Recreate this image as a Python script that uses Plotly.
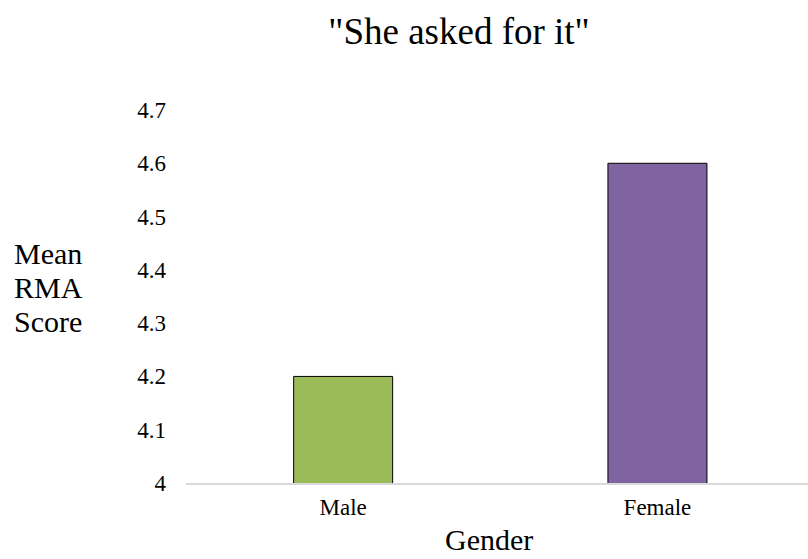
import plotly.graph_objects as go

# Mean RMA score by gender
genders = ["Male", "Female"]
mean_scores = [4.2, 4.6]
bar_colors = ["#9BBB59", "#8064A2"]

y_ticks = [4.0, 4.1, 4.2, 4.3, 4.4, 4.5, 4.6, 4.7]
y_tick_labels = ["4", "4.1", "4.2", "4.3", "4.4", "4.5", "4.6", "4.7"]

# stacked y-axis title lines
y_title_lines = ["Mean", "RMA", "Score"]

serif = "Liberation Serif"

W, H = 808, 559
left, right, top, bottom = 186, 0, 110, 76
plot_w = W - left - right
plot_h = H - top - bottom


def py(pixel_y):
    """Paper y fraction for a pixel row measured from the top of the figure."""
    return 1 - (pixel_y - top) / plot_h


def px(pixel_x):
    """Paper x fraction for a pixel column measured from the left of the figure."""
    return (pixel_x - left) / plot_w


fig = go.Figure(
    go.Bar(
        x=genders,
        y=mean_scores,
        width=0.315,
        marker=dict(color=bar_colors, line=dict(color="black", width=1)),
        base=0,
    )
)

annotations = []
for i, line in enumerate(y_title_lines):
    annotations.append(
        dict(
            text=line,
            xref="paper",
            yref="paper",
            x=px(12),
            y=py(253 + 34 * i),
            xanchor="left",
            yanchor="middle",
            showarrow=False,
            font=dict(family=serif, size=30, color="black"),
        )
    )
annotations.append(
    dict(
        text="Gender",
        xref="paper",
        yref="paper",
        x=px(489),
        y=py(H - 1),
        xanchor="center",
        yanchor="bottom",
        showarrow=False,
        font=dict(family=serif, size=30, color="black"),
    )
)

fig.update_layout(
    template="none",
    width=W,
    height=H,
    margin=dict(l=left, r=right, t=top, b=bottom, pad=0),
    paper_bgcolor="white",
    plot_bgcolor="white",
    showlegend=False,
    font=dict(family=serif, color="black"),
    title=dict(
        text='"She asked for it"',
        font=dict(family=serif, size=37, color="black"),
        x=459 / W,
        xanchor="center",
        y=1 - 31 / H,
        yanchor="middle",
    ),
    xaxis=dict(
        type="category",
        range=[-0.5, 1.479],
        showline=True,
        linecolor="#D9D9D9",
        linewidth=1.5,
        showgrid=False,
        ticks="",
        tickfont=dict(family=serif, size=23, color="black"),
        ticklabelstandoff=3,
        zeroline=False,
    ),
    yaxis=dict(
        range=[4.0, 4.7],
        tickvals=y_ticks,
        ticktext=y_tick_labels,
        showline=False,
        showgrid=False,
        zeroline=False,
        ticks="",
        tickfont=dict(family=serif, size=23, color="black"),
        ticklabelstandoff=19,
    ),
    annotations=annotations,
)

fig.write_html("out.html")
